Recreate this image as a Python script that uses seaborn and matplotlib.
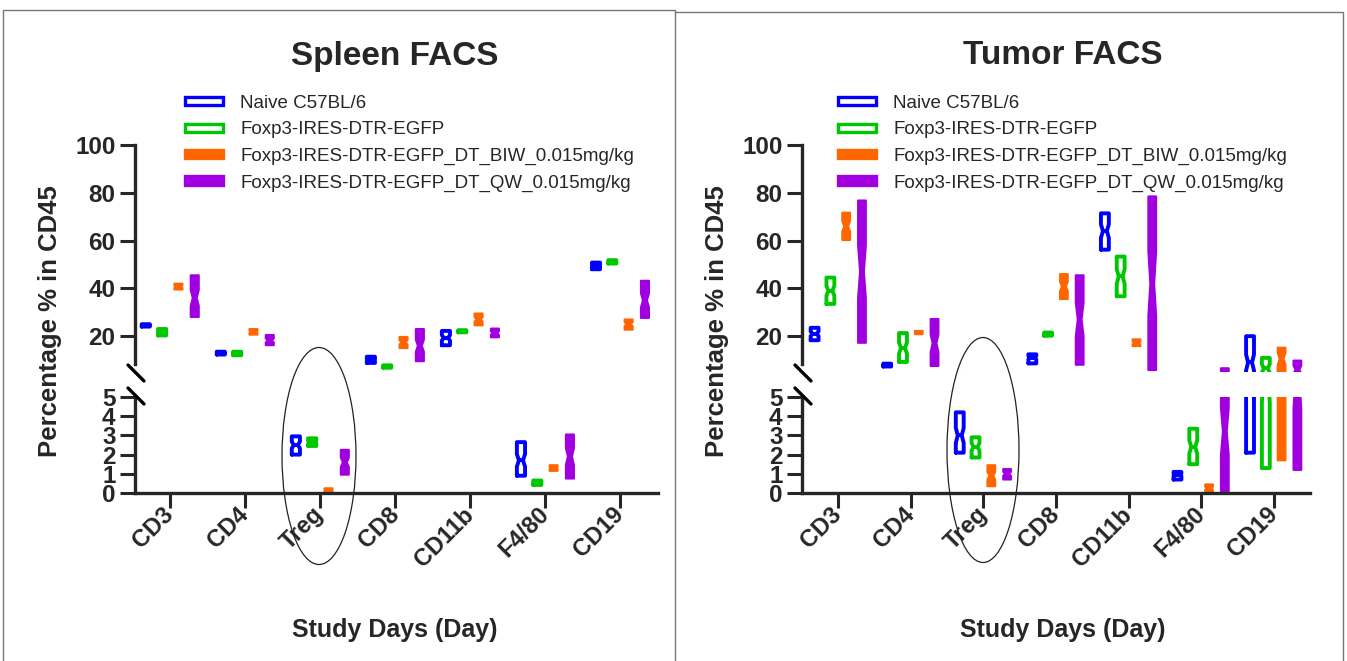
import matplotlib
matplotlib.use("Agg")
import matplotlib.pyplot as plt
from matplotlib.patches import Ellipse, Patch
from matplotlib.lines import Line2D
import seaborn as sns
import pandas as pd

categories = ["CD3", "CD4", "Treg", "CD8", "CD11b", "F4/80", "CD19"]
groups = ["Naive C57BL/6", "Foxp3-IRES-DTR-EGFP",
          "Foxp3-IRES-DTR-EGFP_DT_BIW_0.015mg/kg",
          "Foxp3-IRES-DTR-EGFP_DT_QW_0.015mg/kg"]
colors = ["#0000ff", "#00c800", "#ff6600", "#a000e0"]
filled = [False, False, True, True]

# (min, median, max) for each category
spleen_naive = [(24.0, 24.6, 25.0), (12.3, 12.9, 13.5), (2.0, 2.5, 2.95), (8.8, 10.0, 11.4),
                (16.2, 19.3, 22.2), (0.9, 1.7, 2.65), (48.0, 49.5, 50.8)]
spleen_foxp3 = [(20.3, 21.6, 23.0), (12.0, 12.8, 13.5), (2.45, 2.65, 2.85), (6.8, 7.3, 7.8),
                (21.6, 22.0, 22.5), (0.42, 0.55, 0.65), (50.4, 51.0, 51.8)]
spleen_biw = [(39.5, 40.8, 42.0), (20.6, 21.8, 23.0), (0.05, 0.15, 0.25), (15.0, 17.4, 19.7),
              (24.5, 27.0, 29.5), (1.15, 1.3, 1.45), (22.7, 25.0, 27.0)]
spleen_qw = [(28.0, 36.0, 45.5), (16.2, 18.2, 20.5), (0.95, 1.6, 2.25), (9.5, 16.0, 23.0),
             (19.5, 21.3, 23.2), (0.75, 1.9, 3.05), (27.6, 35.0, 43.2)]

tumor_naive = [(18.3, 21.0, 23.5), (7.3, 7.9, 8.5), (2.1, 3.0, 4.2), (8.6, 11.0, 12.4),
               (56.2, 64.0, 71.4), (0.7, 0.95, 1.1), (2.1, 9.0, 20.0)]
tumor_foxp3 = [(33.5, 39.0, 44.5), (9.2, 15.0, 21.3), (1.85, 2.4, 2.9), (20.2, 20.9, 21.5),
               (36.7, 45.0, 53.3), (1.5, 2.4, 3.35), (1.3, 6.5, 10.9)]
tumor_biw = [(60.2, 66.0, 71.7), (20.8, 21.5, 22.2), (0.35, 0.9, 1.45), (35.5, 40.8, 46.0),
             (15.8, 17.2, 18.7), (0.05, 0.25, 0.45), (1.7, 10.5, 15.2)]
tumor_qw = [(17.2, 47.0, 76.8), (7.5, 17.0, 27.2), (0.7, 1.0, 1.25), (8.0, 27.0, 45.5),
            (5.8, 42.0, 78.5), (0.05, 3.2, 6.6), (1.2, 6.0, 9.8)]

REP = 35  # copies of min/max so the box spans min..max with a notch at the median


def to_long(series_list):
    rows = []
    for g, series in zip(groups, series_list):
        for cat, (lo, med, hi) in zip(categories, series):
            for v in [lo] * REP + [med] + [hi] * REP:
                rows.append({"cell": cat, "group": g, "value": v})
    return pd.DataFrame(rows)


spleen_df = to_long([spleen_naive, spleen_foxp3, spleen_biw, spleen_qw])
tumor_df = to_long([tumor_naive, tumor_foxp3, tumor_biw, tumor_qw])

sns.set_style("ticks")
plt.rcParams["font.family"] = ["Liberation Sans", "DejaVu Sans"]
plt.rcParams["font.weight"] = "bold"
plt.rcParams["axes.linewidth"] = 2.4

W, H = 1347, 661
fig = plt.figure(figsize=(W / 100, H / 100), dpi=100)
palette = dict(zip(groups, colors))


def fx(px):
    return px / W


def fy(py):
    return 1 - py / H


def draw_panel(df, x0, x1, xlo, title, title_x, ylab_x, leg_x, ellipse):
    top = fig.add_axes([fx(x0), fy(372), fx(x1 - x0), (372 - 145) / H])
    bot = fig.add_axes([fx(x0), fy(493), fx(x1 - x0), (493 - 397) / H])
    for ax in (top, bot):
        for g, c, f in zip(groups, colors, filled):
            join = {"joinstyle": "round"} if f else {"solid_joinstyle": "round"}
            sns.boxplot(data=df[df["group"] == g], x="cell", y="value", hue="group",
                        order=categories, hue_order=groups, palette=palette,
                        dodge=True, width=0.87, gap=0.5, fill=f, linecolor=c,
                        linewidth=1.4 if f else 2.8, saturation=1, notch=True,
                        showcaps=False, legend=False, ax=ax, boxprops=join)
        ax.set_xlim(xlo, 6.5)
        ax.set_xlabel("")
        ax.set_ylabel("")
        ax.set_facecolor("none")
        sns.despine(ax=ax)
        ax.tick_params(axis="y", length=11, width=2.2, pad=3, labelsize=17.5)

    top.set_ylim(5, 100)
    top.set_yticks([20, 40, 60, 80, 100])
    top.spines["bottom"].set_visible(False)
    top.spines["left"].set_bounds(8.5, 100)
    top.tick_params(axis="x", bottom=False, labelbottom=False)

    bot.set_ylim(0, 5)
    bot.set_yticks(range(6))
    bot.tick_params(axis="x", length=11, width=2.2, pad=2, labelsize=17)
    for lbl in bot.get_xticklabels():
        lbl.set_rotation(45)
        lbl.set_ha("right")
        lbl.set_va("center")
        lbl.set_rotation_mode("anchor")

    # axis break marks
    for cy in (373, 396):
        fig.add_artist(Line2D([fx(x0 - 7), fx(x0 + 9)], [fy(cy - 8), fy(cy + 8)],
                              color="black", lw=2.4))

    fig.text(fx(title_x), fy(56), title, ha="center", va="center", fontsize=24)
    fig.text(fx(ylab_x), fy(321), "Percentage % in CD45", rotation=90,
             ha="center", va="center", fontsize=18.5)
    fig.text(fx(title_x), fy(630), "Study Days (Day)", ha="center", va="center", fontsize=18)

    handles = [Patch(facecolor=c if f else "white", edgecolor=c, lw=2.4)
               for c, f in zip(colors, filled)]
    fig.legend(handles, groups, loc="upper left",
               bbox_to_anchor=(fx(leg_x), fy(95)), bbox_transform=fig.transFigure,
               frameon=False, borderpad=0, borderaxespad=0,
               handlelength=2.0, handleheight=0.3, handletextpad=0.95,
               labelspacing=0.5, prop={"size": 13.5, "weight": "normal"})

    ex, ey, ew, eh = ellipse
    fig.add_artist(Ellipse((fx(ex), fy(ey)), ew / W, eh / H, transform=fig.transFigure,
                           fill=False, ec="#222222", lw=0.9))


draw_panel(spleen_df, 135, 658, -0.47, "Spleen FACS", 395, 50, 185, (319, 456, 74, 217))
draw_panel(tumor_df, 802, 1310, -0.5, "Tumor FACS", 1063, 717, 838, (983, 450, 72, 225))

# panel frames
frame = dict(color="#777777", lw=1.0, transform=fig.transFigure)
fig.add_artist(Line2D([fx(3), fx(3), fx(675), fx(675)], [0, fy(10), fy(10), 0], **frame))
fig.add_artist(Line2D([fx(675), fx(1343), fx(1343)], [fy(12), fy(12), 0], **frame))

fig.savefig("out.png", dpi=100)
